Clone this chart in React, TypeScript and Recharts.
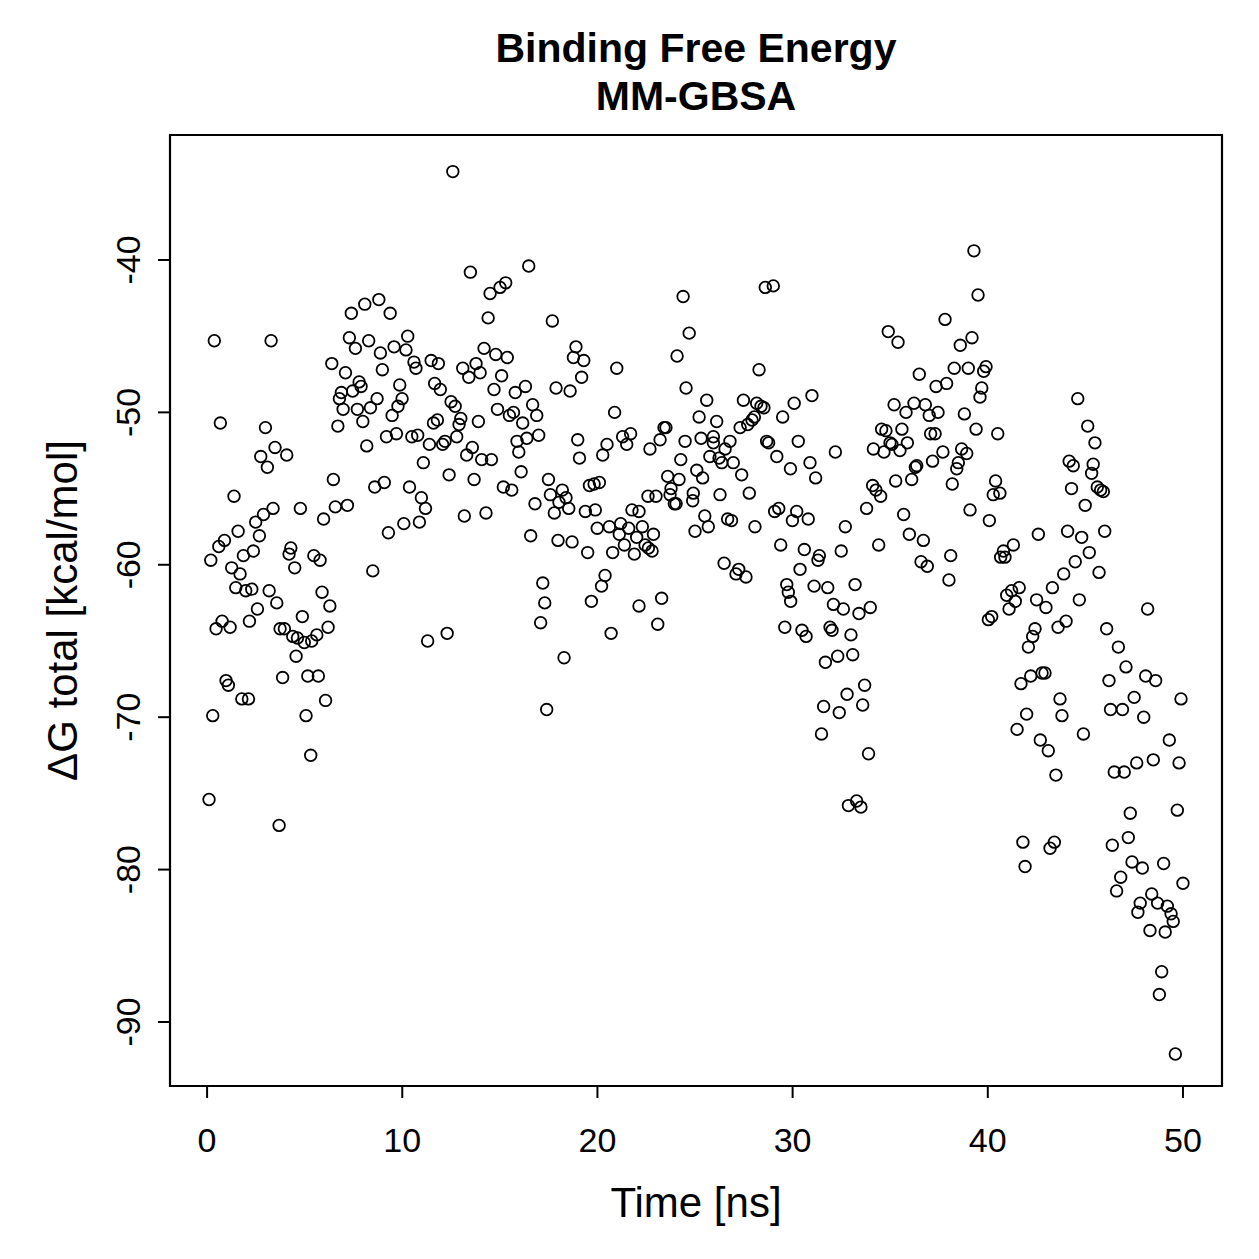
import React from 'react';
import { ScatterChart, Scatter, XAxis, YAxis, ReferenceArea } from 'recharts';

// MM-GBSA binding free energy per frame: [time (ns), ΔG total (kcal/mol)]
const framesQ1: [number, number][] = [
  [0.37, -45.3], [3.28, -45.3], [7.39, -43.5], [8.08, -42.9], [8.80, -42.6], [9.38, -43.5], [7.29, -45.1], [8.28, -45.3],
  [7.60, -45.8], [10.28, -45.0], [9.58, -45.7], [10.19, -45.9], [8.88, -46.1], [6.39, -46.8], [7.09, -47.4], [8.98, -47.2],
  [10.60, -46.7], [10.70, -47.1], [11.48, -46.6], [11.85, -46.8], [7.79, -48.0], [7.89, -48.3], [7.46, -48.6], [9.87, -48.2],
  [6.88, -48.7], [6.78, -49.1], [6.97, -49.8], [7.70, -49.8], [8.71, -49.1], [8.37, -49.7], [9.99, -49.1], [9.78, -49.6],
  [9.48, -50.2], [7.98, -50.6], [6.70, -50.9], [11.66, -48.1], [11.95, -48.5], [0.68, -50.7], [2.99, -51.0], [3.48, -52.3],
  [2.75, -52.9], [4.08, -52.8], [8.18, -52.2], [9.19, -51.6], [9.70, -51.4], [10.49, -51.6], [10.79, -51.5], [11.39, -52.1],
  [11.60, -50.7], [11.80, -50.5],
  [3.09, -53.6], [11.08, -53.3], [6.47, -54.4], [1.38, -55.5], [8.59, -54.9], [9.08, -54.6], [10.37, -54.9], [10.98, -55.6],
  [11.19, -56.3], [10.08, -57.3], [10.88, -57.2], [9.29, -57.9], [3.38, -56.3], [2.89, -56.7], [2.49, -57.2], [1.59, -57.8],
  [0.89, -58.4], [0.60, -58.8], [0.19, -59.7], [4.78, -56.3], [6.57, -56.2], [7.19, -56.1], [5.97, -57.0], [2.68, -58.1],
  [2.37, -59.1], [1.86, -59.4], [1.26, -60.2], [1.69, -60.6], [4.29, -58.9], [4.20, -59.3], [4.49, -60.2], [5.47, -59.4],
  [5.79, -59.7], [8.49, -60.4], [1.47, -61.5], [1.98, -61.7], [2.29, -61.6], [3.18, -61.7], [3.57, -62.5], [2.58, -62.9],
  [2.17, -63.7], [0.77, -63.7], [0.46, -64.2], [1.18, -64.1], [5.89, -61.8], [6.29, -62.7], [4.88, -63.4], [6.20, -64.1],
  [3.74, -64.2], [3.96, -64.2], [4.39, -64.7], [4.63, -64.8], [4.98, -65.1], [5.36, -65.0], [5.62, -64.6], [4.56, -66.0],
  [0.97, -67.6], [1.09, -67.9], [1.78, -68.8], [2.12, -68.8], [3.87, -67.4], [5.16, -67.3], [5.70, -67.3], [6.07, -68.9],
  [0.29, -69.9], [5.07, -69.9], [11.30, -65.0], [5.31, -72.5], [0.10, -75.4], [3.69, -77.1],
];

const framesQ2: [number, number][] = [
  [12.59, -34.2], [13.49, -40.8], [16.48, -40.4], [14.50, -42.2], [15.01, -41.8], [15.30, -41.5], [14.40, -43.8], [17.69, -44.0],
  [24.39, -42.4], [24.70, -44.8], [24.08, -46.3], [24.54, -48.4], [14.19, -45.8], [14.79, -46.2], [15.38, -46.4], [13.10, -47.1],
  [13.78, -46.8], [13.99, -47.4], [13.41, -47.7], [15.09, -47.6], [14.70, -48.5], [15.79, -48.7], [16.31, -48.3], [18.90, -45.7],
  [18.77, -46.4], [19.30, -46.6], [19.19, -47.7], [20.99, -47.1], [17.88, -48.4], [18.60, -48.6], [12.50, -49.3], [12.71, -49.6],
  [13.00, -50.4], [12.91, -50.8], [13.90, -50.6], [14.88, -49.8], [15.49, -50.2], [15.70, -50.0], [16.68, -49.5], [16.89, -50.2],
  [16.17, -50.7], [16.99, -51.5], [16.38, -51.7], [15.88, -51.9], [15.97, -52.6], [12.79, -51.6], [12.19, -51.9], [12.07, -52.1],
  [13.59, -52.3], [13.30, -52.8], [14.07, -53.1], [14.57, -53.1], [18.99, -51.8], [19.08, -53.0], [20.49, -52.1], [20.27, -52.8],
  [20.88, -50.0], [21.29, -51.6], [21.70, -51.4], [21.50, -52.1], [22.69, -52.4], [23.21, -51.8], [23.41, -51.0], [23.51, -51.0],
  [24.49, -51.9], [24.27, -53.1],
  [12.40, -54.1], [13.68, -54.4], [16.09, -53.9], [15.18, -54.9], [15.61, -55.1], [13.18, -56.8], [14.29, -56.6], [17.49, -54.4],
  [17.59, -55.4], [18.20, -55.1], [18.39, -55.6], [18.03, -55.9], [18.53, -56.3], [17.79, -56.6], [16.80, -56.0], [16.58, -58.1],
  [17.98, -58.4], [18.70, -58.5], [19.59, -54.8], [19.83, -54.7], [20.10, -54.6], [19.38, -56.5], [19.89, -56.4], [19.50, -59.2],
  [19.99, -57.6], [20.61, -57.5], [21.19, -57.3], [21.12, -58.0], [21.60, -57.6], [20.78, -59.2], [21.38, -58.7], [21.89, -59.3],
  [22.01, -58.2], [22.30, -57.5], [22.44, -58.7], [22.61, -58.9], [22.80, -59.1], [22.87, -58.0], [21.77, -56.4], [22.13, -56.5],
  [22.59, -55.5], [23.00, -55.5], [23.60, -54.2], [24.18, -54.4], [23.77, -55.0], [23.72, -55.4], [23.94, -56.0], [24.03, -56.0],
  [20.39, -60.7], [20.21, -61.4], [17.20, -61.2], [17.30, -62.5], [17.09, -63.8], [19.69, -62.4], [22.13, -62.7], [23.29, -62.2],
  [23.09, -63.9], [20.70, -64.5], [12.30, -64.5], [18.29, -66.1], [17.40, -69.5],
];

const framesQ3: [number, number][] = [
  [28.60, -41.8], [29.01, -41.7], [34.90, -44.7], [35.40, -45.4], [28.28, -47.2], [36.49, -47.5], [37.35, -48.3], [25.60, -49.2],
  [27.48, -49.2], [28.16, -49.4], [28.38, -49.6], [28.53, -49.7], [30.08, -49.4], [30.99, -48.9], [25.21, -50.3], [26.11, -50.6],
  [27.31, -51.0], [27.70, -50.8], [27.92, -50.5], [28.04, -50.3], [29.49, -50.3], [25.31, -51.7], [25.94, -51.6], [25.94, -52.0],
  [26.79, -51.9], [26.54, -52.4], [28.67, -51.9], [28.77, -52.0], [30.29, -51.9], [29.19, -52.9], [32.19, -52.6], [35.20, -49.5],
  [35.81, -50.0], [36.22, -49.4], [36.80, -49.5], [37.00, -50.2], [37.45, -50.0], [34.56, -51.1], [34.78, -51.2], [35.60, -51.1],
  [34.14, -52.4], [34.99, -52.0], [35.09, -52.1], [35.88, -52.0], [37.07, -51.4], [37.30, -51.4], [34.68, -52.6], [35.50, -52.5],
  [25.76, -52.9], [26.23, -53.0], [26.37, -53.3], [26.96, -53.3], [30.89, -53.3], [36.36, -53.5], [36.29, -53.6], [37.17, -53.2],
  [25.09, -53.8], [25.39, -54.3], [27.39, -54.1], [29.89, -53.7], [31.18, -54.3], [24.91, -55.3], [24.88, -55.8], [26.28, -55.4],
  [27.78, -55.3], [25.50, -56.8], [25.00, -57.8], [25.68, -57.5], [26.67, -57.0], [26.87, -57.1], [28.07, -57.5], [29.08, -56.5],
  [29.29, -56.3], [30.21, -56.5], [29.99, -57.1], [30.80, -57.0], [34.10, -54.8], [34.27, -55.1], [34.51, -55.5], [33.79, -56.3],
  [35.28, -54.5], [36.10, -54.4], [35.69, -56.7], [32.70, -57.5], [34.41, -58.7], [35.98, -58.0], [36.70, -58.4], [36.58, -59.8],
  [36.90, -60.1], [29.39, -58.7], [30.60, -59.0], [31.37, -59.4], [31.30, -59.7], [30.38, -60.3], [32.49, -59.1], [26.49, -59.9],
  [27.24, -60.3], [27.10, -60.6], [27.61, -60.8], [29.70, -61.3], [29.78, -61.8], [29.90, -62.4], [31.10, -61.4], [31.80, -61.5],
  [33.20, -61.3], [32.09, -62.6], [32.60, -62.9], [33.40, -63.2], [33.98, -62.8], [29.60, -64.1], [30.48, -64.3], [30.69, -64.7],
  [31.92, -64.1], [32.02, -64.3], [32.99, -64.6], [31.68, -66.4], [32.31, -66.0], [33.08, -65.9], [33.69, -67.9], [32.79, -68.5],
  [31.59, -69.3], [32.39, -69.7], [33.59, -69.2], [31.48, -71.1], [33.89, -72.4], [32.86, -75.8], [33.28, -75.5], [33.50, -75.9],
];

const framesQ4: [number, number][] = [
  [39.29, -39.4], [39.50, -42.3], [37.81, -43.9], [39.19, -45.1], [38.59, -45.6], [38.28, -47.1], [39.00, -47.1], [39.91, -47.0],
  [39.79, -47.3], [37.89, -48.1], [39.69, -48.4], [39.60, -49.0], [38.80, -50.1], [39.40, -51.1], [40.51, -51.4], [44.61, -49.1],
  [45.12, -50.9], [45.49, -52.0], [37.70, -52.6], [38.66, -52.4], [38.92, -52.7],
  [38.41, -53.7], [38.49, -53.3], [38.18, -54.7], [44.17, -53.2], [44.38, -53.5], [45.40, -53.4], [45.32, -54.0], [44.29, -55.0],
  [45.61, -54.9], [45.78, -55.1], [45.92, -55.2], [44.99, -56.1], [40.40, -54.5], [40.28, -55.4], [40.62, -55.3], [39.09, -56.4],
  [40.08, -57.1], [42.59, -58.0], [44.09, -57.8], [44.81, -58.2], [45.99, -57.8], [45.20, -59.2], [44.48, -59.8], [43.89, -60.6],
  [45.70, -60.5], [41.31, -58.7], [40.80, -59.1], [40.66, -59.5], [40.88, -59.5], [38.10, -59.4], [38.01, -61.0], [43.31, -61.5],
  [42.50, -62.3], [42.98, -62.8], [44.69, -62.3], [40.97, -62.0], [41.22, -61.7], [41.61, -61.5], [41.41, -62.4], [41.09, -62.9],
  [40.03, -63.6], [40.20, -63.4], [44.01, -63.7], [43.60, -64.1], [42.42, -64.2], [42.30, -64.7], [42.08, -65.4], [46.09, -64.2],
  [46.69, -65.4], [47.08, -66.7], [48.09, -67.3], [48.60, -67.6], [48.19, -62.9], [46.21, -67.6], [41.70, -67.8], [42.20, -67.3],
  [42.78, -67.1], [42.93, -67.1], [43.70, -68.8], [43.80, -69.9], [41.99, -69.8], [41.50, -70.8], [42.69, -71.5], [43.10, -72.2],
  [44.90, -71.1], [47.50, -68.7], [46.29, -69.5], [46.90, -69.5], [47.99, -70.0], [49.90, -68.8], [49.30, -71.5], [47.63, -73.0],
  [48.48, -72.8], [49.80, -73.0], [43.49, -73.8], [46.48, -73.6], [46.99, -73.6], [47.30, -76.3], [49.71, -76.1], [41.80, -78.2],
  [43.41, -78.2], [43.19, -78.6], [41.91, -79.8], [46.38, -78.4], [47.20, -77.9], [47.39, -79.5], [47.92, -79.9], [49.01, -79.6],
  [46.81, -80.5], [46.60, -81.4], [50.00, -80.9], [48.40, -81.6], [47.81, -82.2], [47.69, -82.8], [48.70, -82.2], [49.20, -82.4],
  [49.39, -82.9], [49.50, -83.4], [48.31, -84.0], [49.09, -84.1], [48.91, -86.7], [48.79, -88.2], [49.61, -92.1],
];

const timeTicks = [0, 10, 20, 30, 40, 50];
const energyTicks = [-90, -80, -70, -60, -50, -40];
const timeDomain: [number, number] = [-1.9, 52.0];
const energyDomain: [number, number] = [-94.2, -31.8];

const points = [...framesQ1, ...framesQ2, ...framesQ3, ...framesQ4].map(([t, dg]) => ({ t, dg }));

const FONT = '"Liberation Sans", Arial, Helvetica, sans-serif';
const W = 1251;
const H = 1251;
const PLOT = { left: 162, top: 127, width: 1052, height: 951 };

const OpenCircle = (props: any) => (
  <circle cx={props.cx} cy={props.cy} r={5.8} fill="none" stroke="#000" strokeWidth={1.8} />
);

const TimeTick = ({ x, payload }: any) => (
  <text x={x} y={PLOT.top + PLOT.height + 66} textAnchor="middle" fontFamily={FONT} fontSize={34} fill="#000">
    {payload.value}
  </text>
);

const EnergyTick = ({ y, payload }: any) => (
  <text
    x={120}
    y={y}
    dy="0.36em"
    transform={`rotate(-90 120 ${y})`}
    textAnchor="middle"
    fontFamily={FONT}
    fontSize={34}
    fill="#000"
  >
    {payload.value}
  </text>
);

export default function App() {
  const cx = PLOT.left + PLOT.width / 2;
  const cy = PLOT.top + PLOT.height / 2;
  return (
    <div style={{ position: 'relative', width: W, height: H, background: '#fff' }}>
      <ScatterChart
        width={W}
        height={H}
        margin={{ top: PLOT.top, right: W - PLOT.left - PLOT.width, bottom: 0, left: 0 }}
      >
        <XAxis
          dataKey="t"
          type="number"
          domain={timeDomain}
          allowDataOverflow
          ticks={timeTicks}
          height={H - PLOT.top - PLOT.height}
          axisLine={false}
          tickLine={{ stroke: '#000', strokeWidth: 2 }}
          tickSize={12}
          tick={<TimeTick />}
        />
        <YAxis
          dataKey="dg"
          type="number"
          domain={energyDomain}
          allowDataOverflow
          ticks={energyTicks}
          width={PLOT.left}
          axisLine={false}
          tickLine={{ stroke: '#000', strokeWidth: 2 }}
          tickSize={12}
          tick={<EnergyTick />}
        />
        <ReferenceArea
          x1={timeDomain[0]}
          x2={timeDomain[1]}
          y1={energyDomain[0]}
          y2={energyDomain[1]}
          fill="none"
          stroke="#000"
          strokeWidth={2.2}
          ifOverflow="visible"
        />
        <Scatter data={points} shape={OpenCircle} isAnimationActive={false} />
      </ScatterChart>
      <svg
        width={W}
        height={H}
        style={{ position: 'absolute', left: 0, top: 0, pointerEvents: 'none' }}
      >
        <text x={cx} y={54} textAnchor="middle" fontFamily={FONT} fontWeight="bold" fontSize={41} fill="#000">
          Binding Free Energy
        </text>
        <text x={cx} y={102} textAnchor="middle" fontFamily={FONT} fontWeight="bold" fontSize={41} fill="#000">
          MM-GBSA
        </text>
        <text x={cx} y={1209} textAnchor="middle" fontFamily={FONT} fontSize={42} fill="#000">
          Time [ns]
        </text>
        <text
          x={54}
          y={cy}
          dy="0.36em"
          transform={`rotate(-90 54 ${cy})`}
          textAnchor="middle"
          fontFamily={FONT}
          fontSize={42}
          fill="#000"
        >
          ΔG total [kcal/mol]
        </text>
      </svg>
    </div>
  );
}
